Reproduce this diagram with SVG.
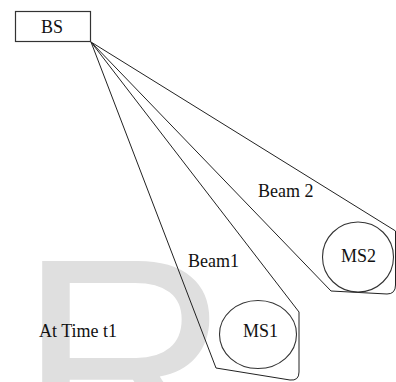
<svg xmlns="http://www.w3.org/2000/svg" width="396" height="382" viewBox="0 0 396 382">
<style>
.ln{fill:none;stroke:#222;stroke-width:1}
.nd{fill:#fff;stroke:#333;stroke-width:1.2}
.ms{fill:none;stroke:#333;stroke-width:1.1}
.t{font-family:"Liberation Serif","Times New Roman",serif;font-size:18px;fill:#111}
</style>
<rect width="396" height="382" fill="#fff"/>
<text x="18" y="464" font-family="Liberation Sans, Arial, sans-serif" font-size="295" fill="#dfdfdf">R</text>
<g id="connectors">
<path id="beam1" class="ln" d="M91,42 L216,368 L290,380 Q299,381 299,372 L299,312 Z"/>
<path id="beam2" class="ln" d="M91,42 L331,291 L387,294 Q395.5,294 395.5,285 L395.5,231 L394,230 Z"/>
</g>
<g id="BS"><rect class="nd" x="15.5" y="11.5" width="75" height="30"/><text class="t" x="41" y="33">BS</text></g>
<g id="MS1"><ellipse class="ms" cx="258" cy="334.5" rx="38.5" ry="34"/><text class="t" x="243" y="337">MS1</text></g>
<g id="MS2"><ellipse class="ms" cx="358" cy="257" rx="35.5" ry="35"/><text class="t" x="341" y="262">MS2</text></g>
<g id="labels">
<text class="t" x="188" y="267">Beam1</text>
<text class="t" x="258" y="197">Beam 2</text>
<text class="t" x="39" y="337">At Time t1</text>
</g>
</svg>
